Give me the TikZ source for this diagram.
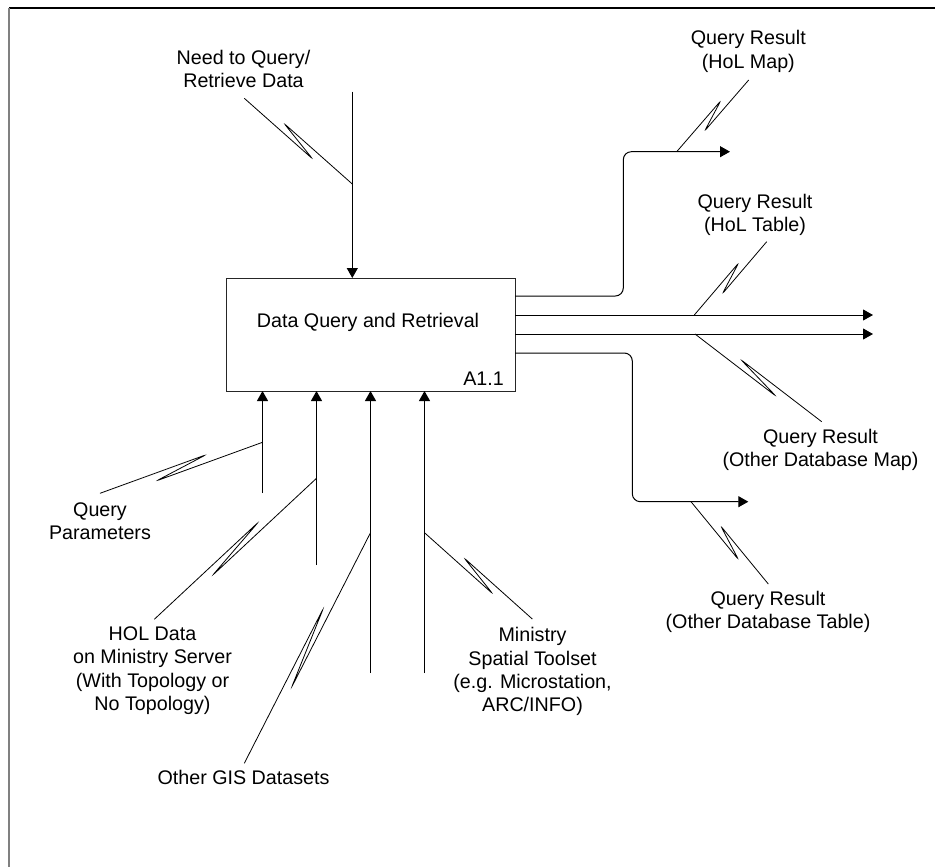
\documentclass[tikz,border=0pt]{standalone}
\usepackage{fontspec}
\setmainfont{Liberation Sans}
\usetikzlibrary{arrows.meta,calc}

% IDEF0 squiggle: label end #1, arrow point #2, sides of far/near tips #3/#4
\newcommand\idefsquiggle[4]{%
  \draw[squigline] (#1) -- ($(#1)!0.66!(#2)!5pt!#3:(#2)$)
    -- ($(#1)!0.34!(#2)!5pt!#4:(#2)$) -- (#2);}

\begin{document}
\begin{tikzpicture}[x=1pt,y=-1pt,
  lbl/.style={font=\fontsize{19.7}{23.3}\selectfont, align=center, inner sep=0pt},
  flow/.style={line width=1pt, -{Triangle[length=10pt,width=11pt]}},
  squigline/.style={line width=0.8pt, rounded corners=2.5pt},
  activity/.style={draw=black!85, line width=1pt, minimum width=289pt,
    minimum height=113pt, inner sep=0pt, outer sep=0pt}]
\useasboundingbox (0,0) rectangle (935,867);

% page frame
\draw[line width=1.3pt] (9,8) -- (935,8);
\draw[black!50, line width=2pt] (9,8) -- (9,867);

% activity box
\node[activity] (box) at (370.5,334.5) {};
\node[lbl, anchor=base] (title) at (368,327.3) {Data Query and Retrieval};
\node[lbl, anchor=base east] (num) at (504,385) {A1.1};

% control
\coordinate (ctop) at (352.3,91.7);
\coordinate (cj) at (352.3,184);
\draw[flow] (ctop) -- (ctop |- box.north);
\node[lbl, anchor=north] (need) at (243.5,50) {Need to Query/\\Retrieve Data};
\coordinate (needend) at (244.3,98.3);
\idefsquiggle{needend}{cj}{-90}{90}

% mechanisms / inputs from below
\coordinate (m1) at (262.5,493);
\coordinate (m2) at (316.5,565);
\coordinate (m3) at (370.5,673);
\coordinate (m4) at (424.5,673);
\draw[flow] (m1) -- (m1 |- box.south);
\draw[flow] (m2) -- (m2 |- box.south);
\draw[flow] (m3) -- (m3 |- box.south);
\draw[flow] (m4) -- (m4 |- box.south);

\coordinate (m1j) at (262.5,442.3);
\coordinate (m2j) at (316.5,478.3);
\coordinate (m3j) at (370.5,532.7);
\coordinate (m4j) at (424.5,532.7);

\node[lbl, anchor=north] (qp) at (100,502.3) {Query\\Parameters};
\coordinate (qpend) at (100,493.3);
\idefsquiggle{qpend}{m1j}{90}{-90}

\node[lbl, anchor=north] (hol) at (152.5,626.6)
  {HOL Data\\on Ministry Server\\(With Topology or\\No Topology)};
\coordinate (holend) at (154.3,619.3);
\idefsquiggle{holend}{m2j}{90}{-90}

\node[lbl, anchor=base] (gis) at (243.5,784.3) {Other GIS Datasets};
\coordinate (gisend) at (244.3,763.3);
\idefsquiggle{gisend}{m3j}{90}{-90}

\node[lbl, anchor=north] (tool) at (532.5,627.3)
  {Ministry\\Spatial Toolset\\(e.g. Microstation,\\ARC/INFO)};
\coordinate (toolend) at (532.3,619);
\idefsquiggle{toolend}{m4j}{-90}{90}

% outputs
\coordinate (o1s) at (515,296);
\coordinate (o2s) at (515,315);
\coordinate (o3s) at (515,334);
\coordinate (o4s) at (515,353);
\coordinate (o1e) at (730,151.7);
\coordinate (o2e) at (873,315);
\coordinate (o3e) at (873,334);
\coordinate (o4e) at (748.3,501.7);
\draw[flow, rounded corners=8pt] (o1s) -- (623.3,296) -- (623.3,151.7) -- (o1e);
\draw[flow] (o2s) -- (o2e);
\draw[flow] (o3s) -- (o3e);
\draw[flow, rounded corners=8pt] (o4s) -- (632.3,353) -- (632.3,501.7) -- (o4e);

\coordinate (o1j) at (676.7,151.7);
\coordinate (o2j) at (694.3,315);
\coordinate (o3j) at (695,334);
\coordinate (o4j) at (691,501.7);

\node[lbl, anchor=north] (r1) at (748.3,30.3) {Query Result\\(HoL Map)};
\coordinate (r1end) at (748.7,80);
\idefsquiggle{r1end}{o1j}{90}{-90}

\node[lbl, anchor=north] (r2) at (755,194) {Query Result\\(HoL Table)};
\coordinate (r2end) at (766.7,241.7);
\idefsquiggle{r2end}{o2j}{90}{-90}

\node[lbl, anchor=north] (r3) at (820.5,429) {Query Result\\(Other Database Map)};
\coordinate (r3end) at (821.7,421.7);
\idefsquiggle{r3end}{o3j}{-90}{90}

\node[lbl, anchor=north] (r4) at (768,590.6) {Query Result\\(Other Database Table)};
\coordinate (r4end) at (768.3,584);
\idefsquiggle{r4end}{o4j}{-90}{90}
\end{tikzpicture}
\end{document}
